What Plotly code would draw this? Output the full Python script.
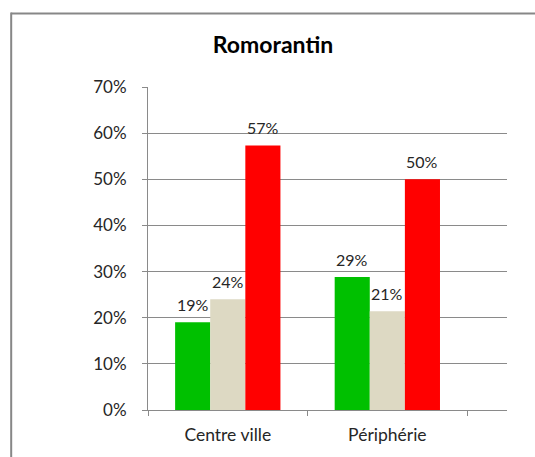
import plotly.graph_objects as go

categories = ["Centre ville", "Périphérie"]
series_green = [0.19, 0.288]
series_beige = [0.24, 0.214]
series_red = [0.573, 0.50]
y_ticks = [0, 0.1, 0.2, 0.3, 0.4, 0.5, 0.6, 0.7]
y_tick_labels = ["0%", "10%", "20%", "30%", "40%", "50%", "60%", "70%"]

W, H = 535, 457
L, R, T, B = 147.5, 28, 87, 47
FONT = "Lato"
BARGAP = 0.34
X_RANGE = [-0.5, 1.75]
colors = ["#00C000", "#DDD9C3", "#FF0000"]
series = [series_green, series_beige, series_red]

pw = W - L - R
ph = H - T - B
cat_px = pw / (X_RANGE[1] - X_RANGE[0])
bar_px = cat_px * (1 - BARGAP) / len(series)

fig = go.Figure()
for i, (vals, col) in enumerate(zip(series, colors)):
    fig.add_trace(go.Bar(
        x=categories, y=vals, marker=dict(color=col, line=dict(width=0)),
        showlegend=False, hoverinfo="skip",
    ))
    for cat, v in zip(categories, vals):
        fig.add_annotation(
            x=cat, y=v, text=f"{v:.0%}", showarrow=False,
            xshift=(i - 1) * bar_px, yshift=18, yanchor="middle", xanchor="center",
            font=dict(family=FONT, size=16, color="#262626"),
        )

# outer frame: only the top and left edges are visible in the window
fig.add_shape(type="line", xref="paper", yref="paper",
              x0=(10.5 - L) / pw, x1=(W + 20 - L) / pw,
              y0=(H - 13.5 - B) / ph, y1=(H - 13.5 - B) / ph,
              line=dict(color="#878787", width=2), layer="above")
fig.add_shape(type="line", xref="paper", yref="paper",
              x0=(10.5 - L) / pw, x1=(10.5 - L) / pw,
              y0=(-20 - B) / ph, y1=(H - 12.5 - B) / ph,
              line=dict(color="#878787", width=2), layer="above")

fig.update_layout(
    width=W, height=H,
    margin=dict(l=L, r=R, t=T, b=B, autoexpand=False),
    paper_bgcolor="white", plot_bgcolor="white",
    barmode="group", bargap=BARGAP, bargroupgap=0,
    title=dict(text="<b>Romorantin</b>", x=273 / W, xanchor="center", y=1 - 45 / H, yanchor="middle",
               font=dict(family=FONT, size=23, color="#000000")),
    font=dict(family=FONT, size=17, color="#262626"),
)
fig.update_xaxes(
    type="category", range=X_RANGE, tickson="boundaries",
    ticks="outside", ticklen=5, tickcolor="#8a8a8a", tickwidth=1,
    showline=True, linecolor="#8a8a8a", linewidth=1, showgrid=False,
    tickfont=dict(family=FONT, size=17.5, color="#262626"), ticklabelstandoff=9,
)
fig.update_yaxes(
    range=[0, 0.7], tickvals=y_ticks, ticktext=y_tick_labels,
    ticks="outside", ticklen=5, tickcolor="#8a8a8a", tickwidth=1,
    showline=True, linecolor="#8a8a8a", linewidth=1,
    showgrid=True, gridcolor="#8a8a8a", gridwidth=1, zeroline=False,
    tickfont=dict(family=FONT, size=17, color="#262626"), ticklabelstandoff=12,
)
fig.write_html(
    "out.html",
    config={"displayModeBar": False, "staticPlot": True},
    post_script="document.body.style.margin='0';document.body.style.overflow='hidden';",
)
